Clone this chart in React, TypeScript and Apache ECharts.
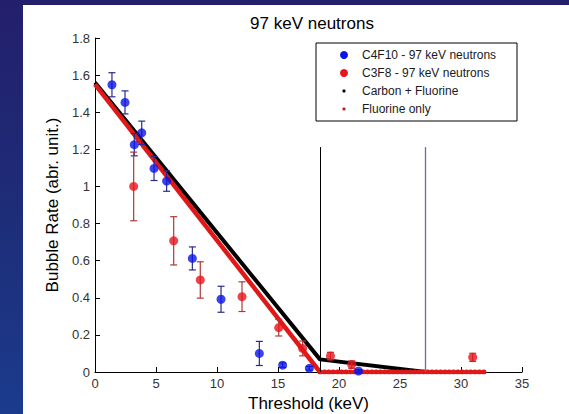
import React, { useEffect, useRef } from "react";
import * as echarts from "echarts";

// C4F10 - 97 keV neutrons (blue)
const blueX = [1.39, 2.46, 3.22, 3.83, 4.84, 5.87, 7.98, 10.33, 13.47, 15.38, 17.57, 21.6];
const blueY = [1.548, 1.453, 1.225, 1.289, 1.097, 1.029, 0.612, 0.392, 0.1, 0.037, 0.02, 0.005];
const blueErr = [0.065, 0.062, 0.06, 0.063, 0.065, 0.055, 0.062, 0.07, 0.065, 0.012, 0.01, 0.008];

// C3F8 - 97 keV neutrons (red)
const redX = [3.17, 6.45, 8.63, 12.05, 15.06, 17.02, 19.3, 21.04, 30.96];
const redY = [1.0, 0.707, 0.496, 0.406, 0.239, 0.127, 0.086, 0.04, 0.079];
const redErr = [0.185, 0.13, 0.098, 0.08, 0.045, 0.04, 0.02, 0.02, 0.022];

// Carbon + Fluorine (black)
const cfX = [0, 18.44, 27.1];
const cfY = [1.56, 0.068, 0];
// Fluorine only (red line)
const fX = [0, 18.44];
const fY = [1.55, 0];
const fFlatX = [18.44, 32.1];
const fFlatY = [0, 0];

// Vertical threshold lines
const vLineX = [18.44, 27.1];
const vLineTop = 1.212;

const xTicks = [0, 5, 10, 15, 20, 25, 30, 35];
const yTicks = [0, 0.2, 0.4, 0.6, 0.8, 1, 1.2, 1.4, 1.6, 1.8];

const legendNames = [
  "C4F10 - 97 keV neutrons",
  "C3F8 - 97 keV neutrons",
  "Carbon + Fluorine",
  "Fluorine only",
];

const FONT = "Arial, 'Liberation Sans', sans-serif";

function zip(xs: number[], ys: number[]) {
  return xs.map((x, i) => [x, ys[i]]);
}

function errorSeries(xs: number[], ys: number[], errs: number[], color: string) {
  return {
    type: "custom",
    silent: true,
    z: 3,
    data: xs.map((x, i) => [x, ys[i] - errs[i], ys[i] + errs[i]]),
    renderItem: (params: any, api: any) => {
      const x = api.value(0);
      const lo = api.coord([x, api.value(1)]);
      const hi = api.coord([x, api.value(2)]);
      const hw = 3.5;
      const style = { stroke: color, lineWidth: 1.2, fill: "none" };
      return {
        type: "group",
        children: [
          { type: "line", shape: { x1: lo[0], y1: lo[1], x2: hi[0], y2: hi[1] }, style },
          { type: "line", shape: { x1: lo[0] - hw, y1: lo[1], x2: lo[0] + hw, y2: lo[1] }, style },
          { type: "line", shape: { x1: hi[0] - hw, y1: hi[1], x2: hi[0] + hw, y2: hi[1] }, style },
        ],
      };
    },
  };
}

export default function App() {
  const ref = useRef<HTMLDivElement>(null);

  useEffect(() => {
    if (!ref.current) return;
    const chart = echarts.init(ref.current, null, { renderer: "svg" });

    const legendTop = 43;
    const legendLeft = 316;
    const legendItems: any[] = [
      {
        type: "rect",
        shape: { x: legendLeft, y: legendTop, width: 201, height: 78 },
        style: { fill: "#fff", stroke: "#000", lineWidth: 1 },
      },
    ];
    const markerStyles = [
      { r: 4, fill: "#0a14e8" },
      { r: 4, fill: "#e8141a" },
      { r: 1.6, fill: "#000" },
      { r: 1.6, fill: "#c02020" },
    ];
    legendNames.forEach((name, i) => {
      const cy = legendTop + 12 + i * 18;
      legendItems.push({
        type: "circle",
        shape: { cx: 344, cy, r: markerStyles[i].r },
        style: { fill: markerStyles[i].fill },
      });
      legendItems.push({
        type: "text",
        x: 362,
        y: cy,
        style: {
          text: name,
          font: `12px ${FONT}`,
          fill: "#1a1a1a",
          textVerticalAlign: "middle",
          verticalAlign: "middle",
        },
      });
    });

    chart.setOption({
      animation: false,
      backgroundColor: "transparent",
      title: {
        text: "97 keV neutrons",
        left: 307,
        top: 10,
        textAlign: "center",
        textStyle: { fontFamily: FONT, fontSize: 17, fontWeight: "normal", color: "#000" },
      },
      grid: {
        left: 95,
        right: 47,
        top: 38,
        bottom: 42,
        containLabel: false,
        outerBoundsMode: "none",
      },
      xAxis: {
        type: "value",
        min: 0,
        max: 35,
        interval: 5,
        name: "Threshold (keV)",
        nameLocation: "middle",
        nameGap: 21,
        nameTextStyle: { fontFamily: FONT, fontSize: 17, color: "#000" },
        axisLine: { show: true, onZero: false, lineStyle: { color: "#000", width: 1 } },
        axisTick: { show: true, inside: true, length: 5, lineStyle: { color: "#000" } },
        axisLabel: {
          fontFamily: FONT,
          fontSize: 13,
          color: "#333",
          margin: 5,
          formatter: (v: number) => (xTicks.includes(v) ? String(v) : ""),
        },
        splitLine: { show: false },
      },
      yAxis: {
        type: "value",
        min: 0,
        max: 1.8,
        interval: 0.2,
        name: "Bubble Rate (abr. unit.)",
        nameLocation: "middle",
        nameGap: 29,
        nameTextStyle: { fontFamily: FONT, fontSize: 17, color: "#000" },
        axisLine: { show: true, lineStyle: { color: "#000", width: 1 } },
        axisTick: { show: true, inside: true, length: 5, lineStyle: { color: "#000" } },
        axisLabel: {
          fontFamily: FONT,
          fontSize: 13,
          color: "#333",
          margin: 5,
          formatter: (v: number) => {
            const t = yTicks.find((y) => Math.abs(y - v) < 1e-6);
            return t === undefined ? "" : String(Math.round(t * 10) / 10);
          },
        },
        splitLine: { show: false },
      },
      graphic: legendItems,
      series: [
        {
          name: "vlines",
          type: "line",
          data: [],
          silent: true,
          markLine: {
            silent: true,
            symbol: "none",
            label: { show: false },
            data: [
              [
                { coord: [vLineX[0], 0], lineStyle: { color: "#000", width: 1, type: "solid" } },
                { coord: [vLineX[0], vLineTop] },
              ],
              [
                { coord: [vLineX[1], 0], lineStyle: { color: "#6a6aaa", width: 1.3, type: "solid" } },
                { coord: [vLineX[1], vLineTop] },
              ],
            ],
          },
        },
        {
          name: "Carbon + Fluorine",
          type: "line",
          data: zip(cfX, cfY),
          showSymbol: false,
          lineStyle: { color: "#000", width: 4 },
          z: 2,
        },
        {
          name: "Fluorine only",
          type: "line",
          data: zip(fX, fY),
          showSymbol: false,
          lineStyle: { color: "#e01818", width: 4.5 },
          z: 2,
        },
        {
          name: "Fluorine only flat",
          type: "line",
          data: zip(fFlatX, fFlatY),
          showSymbol: false,
          lineStyle: { color: "#e01818", width: 5, type: [0.5, 3.8], cap: "round" },
          z: 2,
        },
        errorSeries(blueX, blueY, blueErr, "#2a2a8a"),
        errorSeries(redX, redY, redErr, "#b03838"),
        {
          name: legendNames[0],
          type: "scatter",
          data: zip(blueX, blueY),
          symbol: "circle",
          symbolSize: 9,
          itemStyle: { color: "#0a14e8" },
          z: 4,
        },
        {
          name: legendNames[1],
          type: "scatter",
          data: zip(redX, redY),
          symbol: "circle",
          symbolSize: 9,
          itemStyle: { color: "#e8141a" },
          z: 4,
        },
      ],
    });

    return () => chart.dispose();
  }, []);

  return (
    <div
      style={{
        position: "absolute",
        left: 0,
        top: 0,
        width: 569,
        height: 414,
        background: "linear-gradient(180deg, #231f6c 0%, #1e2c78 50%, #1b3b8c 100%)",
        overflow: "hidden",
      }}
    >
      <div
        style={{
          position: "absolute",
          left: 23,
          top: 5,
          right: 0,
          bottom: 0,
          background: "#fff",
        }}
      />
      <div ref={ref} style={{ position: "absolute", left: 0, top: 0, width: 569, height: 414 }} />
    </div>
  );
}
